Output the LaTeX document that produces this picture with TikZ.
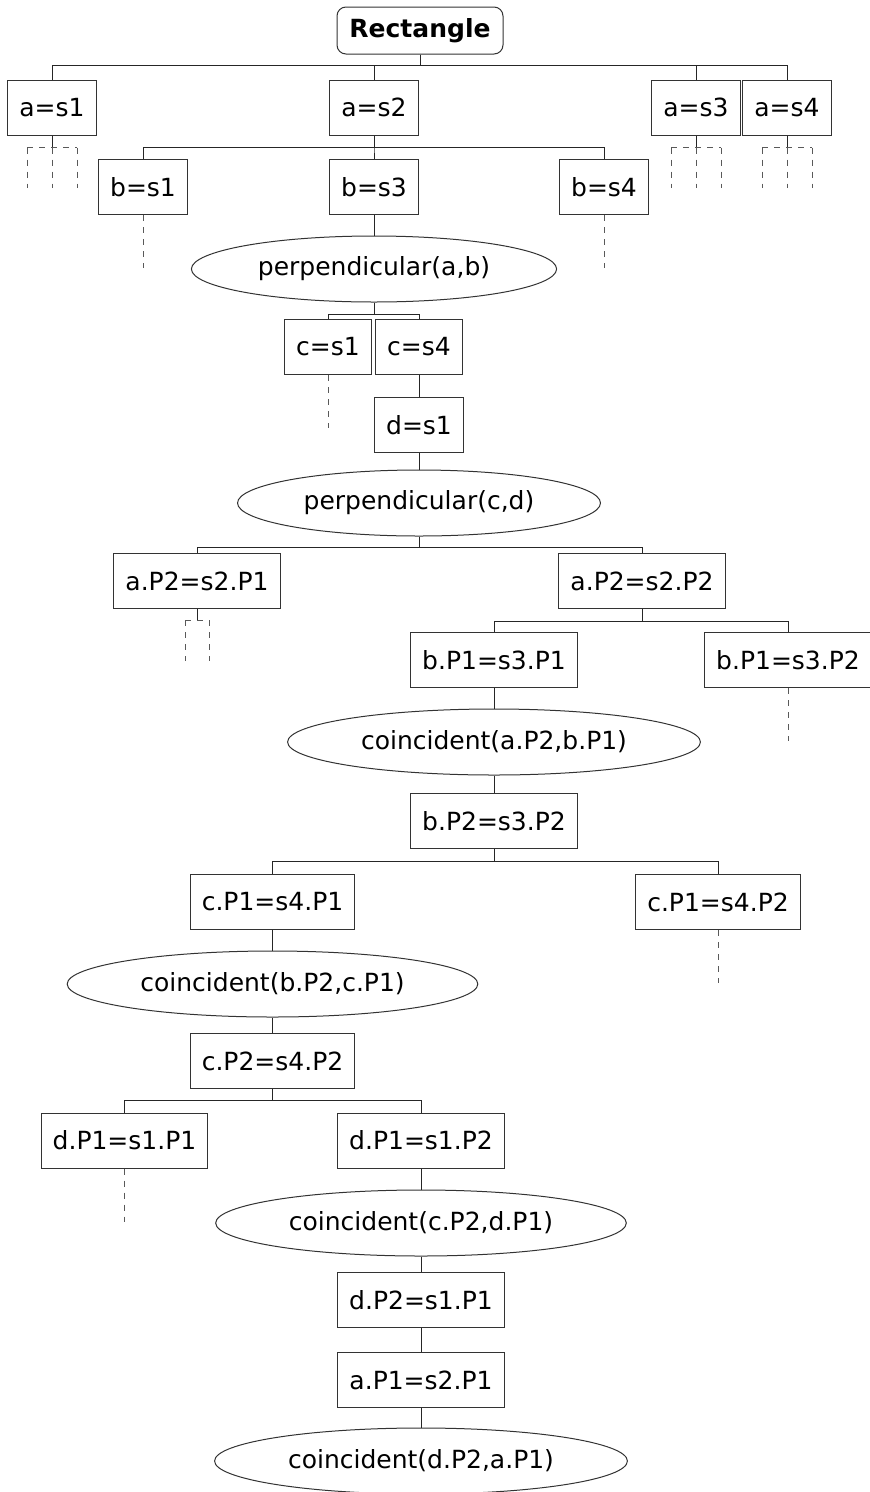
\documentclass[tikz,border=0pt]{standalone}
\usepackage{fontspec}
\setmainfont{DejaVu Sans}
\usetikzlibrary{shapes.geometric,calc}
\tikzset{
  every node/.style={font=\fontsize{25pt}{30pt}\selectfont, text=black},
  box/.style={draw=black!80, line width=1pt, rectangle, minimum height=55pt, inner xsep=11.5pt, inner ysep=0pt},
  rootbox/.style={draw=black!80, line width=1pt, rectangle, rounded corners=9pt, minimum height=47pt, minimum width=166pt, font=\fontsize{25pt}{30pt}\selectfont\bfseries},
  oval/.style={draw=black!80, line width=1pt, ellipse, minimum height=66pt, inner xsep=13pt, inner ysep=2pt},
  link/.style={draw=black!85, line width=1pt},
  ghost/.style={draw=black!65, line width=1pt, dash pattern=on 6pt off 6pt}
}
\begin{document}
\begin{tikzpicture}[x=1pt,y=-1pt]
\useasboundingbox (0,0) rectangle (870,1492);
% nodes
\node[rootbox] (root) at (420,30.5) {Rectangle};
\node[box] (a1) at (52,107.5) {a=s1};
\node[box] (a2) at (374,107.5) {a=s2};
\node[box] (a3) at (696,107.5) {a=s3};
\node[box] (a4) at (787,107.5) {a=s4};
\node[box] (b1) at (143,187) {b=s1};
\node[box] (b3) at (374,187) {b=s3};
\node[box] (b4) at (604,187) {b=s4};
\node[oval] (pab) at (374,269) {perpendicular(a,b)};
\node[box] (c1) at (328,347) {c=s1};
\node[box] (c4) at (419,347) {c=s4};
\node[box] (d1) at (419,425) {d=s1};
\node[oval] (pcd) at (419,503) {perpendicular(c,d)};
\node[box] (aPa) at (197,581) {a.P2=s2.P1};
\node[box] (aPb) at (642,581) {a.P2=s2.P2};
\node[box] (bPa) at (494,660) {b.P1=s3.P1};
\node[box] (bPb) at (788,660) {b.P1=s3.P2};
\node[oval] (co1) at (494,742) {coincident(a.P2,b.P1)};
\node[box] (bPc) at (494,821) {b.P2=s3.P2};
\node[box] (cPa) at (272.5,902) {c.P1=s4.P1};
\node[box] (cPb) at (718,902) {c.P1=s4.P2};
\node[oval] (co2) at (272.5,984) {coincident(b.P2,c.P1)};
\node[box] (cPc) at (272.5,1061) {c.P2=s4.P2};
\node[box] (dPa) at (124.5,1140.5) {d.P1=s1.P1};
\node[box] (dPb) at (421,1140.5) {d.P1=s1.P2};
\node[oval] (co3) at (421,1223) {coincident(c.P2,d.P1)};
\node[box] (dPc) at (421,1300) {d.P2=s1.P1};
\node[box] (aPc) at (421,1380) {a.P1=s2.P1};
\node[oval] (co4) at (421,1461) {coincident(d.P2,a.P1)};
% tree connectors
\foreach \c in {a1,a2,a3,a4} \draw[link] (root.south) -- ++(0,11) -| (\c.north);
\foreach \c in {b1,b3,b4} \draw[link] (a2.south) -- ++(0,12) -| (\c.north);
\draw[link] (b3.south) -- (pab.north);
\foreach \c in {c1,c4} \draw[link] (pab.south) -- ++(0,12) -| (\c.north);
\draw[link] (c4.south) -- (d1.north);
\draw[link] (d1.south) -- (pcd.north);
\foreach \c in {aPa,aPb} \draw[link] (pcd.south) -- ++(0,11) -| (\c.north);
\foreach \c in {bPa,bPb} \draw[link] (aPb.south) -- ++(0,12) -| (\c.north);
\draw[link] (bPa.south) -- (co1.north);
\draw[link] (co1.south) -- (bPc.north);
\foreach \c in {cPa,cPb} \draw[link] (bPc.south) -- ++(0,12) -| (\c.north);
\draw[link] (cPa.south) -- (co2.north);
\draw[link] (co2.south) -- (cPc.north);
\foreach \c in {dPa,dPb} \draw[link] (cPc.south) -- ++(0,11) -| (\c.north);
\draw[link] (dPb.south) -- (co3.north);
\draw[link] (co3.south) -- (dPc.north);
\draw[link] (dPc.south) -- (aPc.north);
\draw[link] (aPc.south) -- (co4.north);
% unexplored branches: three dashed legs
\foreach \n in {a1,a3,a4} {
  \draw[link] (\n.south) -- ++(0,12) coordinate (\n j);
  \draw[ghost] ([xshift=-25pt]\n j) -- ([xshift=25pt]\n j);
  \draw[ghost] ([xshift=-25pt]\n j) -- ++(0,40);
  \draw[ghost] (\n j) -- ++(0,40);
  \draw[ghost] ([xshift=25pt]\n j) -- ++(0,40);
}
% two dashed legs
\draw[link] (aPa.south) -- ++(0,11) coordinate (aPaj);
\draw[ghost] ([xshift=-12pt]aPaj) -- ([xshift=12pt]aPaj);
\draw[ghost] ([xshift=-12pt]aPaj) -- ++(0,41);
\draw[ghost] ([xshift=12pt]aPaj) -- ++(0,41);
% single dashed legs
\foreach \n in {b1,b4,c1,bPb,cPb,dPa} \draw[ghost] (\n.south) -- ++(0,53);
\end{tikzpicture}
\end{document}
